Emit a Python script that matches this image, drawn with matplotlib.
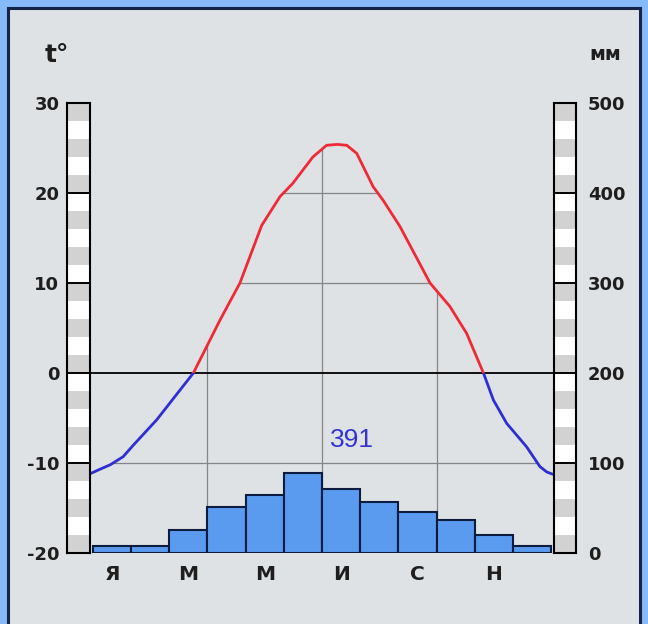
import matplotlib
matplotlib.use("Agg")
import matplotlib.pyplot as plt
from matplotlib.patches import Polygon, Rectangle
import numpy as np

# Осадки по месяцам, мм
months = ['Я', 'Ф', 'М', 'А', 'М', 'И', 'И', 'А', 'С', 'О', 'Н', 'Д']
precip = [8, 8, 26, 51, 65, 89, 71, 57, 46, 37, 20, 8]
total_precip = 391

# Ход температуры (положение в месяцах от начала года, t°)
curve_m = [-0.08, 0.18, 0.45, 0.79, 1.06, 1.67, 2.15, 2.63, 3.33, 3.85, 4.42,
           4.90, 5.24, 5.76, 6.12, 6.40, 6.65, 6.91, 7.34, 7.60, 8.04, 8.83, 9.35,
           9.79, 10.23, 10.49, 10.84, 11.36, 11.71, 11.89, 12.08]
curve_t = [-11.2, -10.7, -10.2, -9.3, -8.0, -5.2, -2.6, 0.0, 5.9, 10.0, 16.4,
           19.6, 21.1, 24.0, 25.3, 25.4, 25.3, 24.4, 20.7, 19.2, 16.3, 10.0, 7.4,
           4.4, 0.0, -3.0, -5.6, -8.2, -10.4, -11.0, -11.3]

t_ticks = [-20, -10, 0, 10, 20, 30]
p_ticks = [0, 100, 200, 300, 400, 500]

W, H = 648, 624
fig = plt.figure(figsize=(W / 100, H / 100), dpi=100)
fig.patch.set_facecolor('#86baf9')
fig.patches.append(Rectangle((8 / W, -0.02), 632 / W, 1.02 - 8 / H,
                             transform=fig.transFigure, facecolor='#dfe2e4',
                             edgecolor='#17244a', lw=2.2, zorder=-5))

def fx(x):
    return x / W

def fy(y):
    return (H - y) / H

# основная область
ax = fig.add_axes([fx(90), fy(553), fx(554) - fx(90), fy(103) - fy(553)])
ax.set_facecolor('none')
xmin, xmax = -0.0786, 12.0786
ax.set_xlim(xmin, xmax)
ax.set_ylim(-20, 30)
for s in ax.spines.values():
    s.set_visible(False)
ax.set_yticks([])

# сетка только под кривой
poly = Polygon(list(zip(curve_m, curve_t)) + [(xmax, -20), (xmin, -20)],
               closed=True, transform=ax.transData)
for v in [20, 10, -10]:
    ln = ax.axhline(v, color='#858585', lw=0.9, zorder=1)
    ln.set_clip_path(poly)
for v in [3, 6, 9]:
    ln = ax.axvline(v, color='#858585', lw=0.9, zorder=1)
    ln.set_clip_path(poly)
ax.axhline(0, color='black', lw=1.3, zorder=2)

# кривая: синяя ниже нуля, красная выше
blue_line, = ax.plot(curve_m, curve_t, color='#2e2ed2', lw=2.0, zorder=3,
                     solid_capstyle='round', solid_joinstyle='round')
blue_line.set_clip_path(Rectangle((xmin, -20), xmax - xmin, 20, transform=ax.transData))
red_line, = ax.plot(curve_m, curve_t, color='#ee2a36', lw=2.0, zorder=3,
                    solid_capstyle='round', solid_joinstyle='round')
red_line.set_clip_path(Rectangle((xmin, 0), xmax - xmin, 30, transform=ax.transData))

ax.text(6.79, -7.4, str(total_precip), color='#3434cc', fontsize=19,
        family='Liberation Sans', ha='center', va='center', zorder=4)

label_idx = [0, 2, 4, 6, 8, 10]
ax.set_xticks([i + 0.5 for i in label_idx])
ax.set_xticklabels([months[i] for i in label_idx],
                   fontsize=14.5, fontweight='bold', color='#1e1e1e')
ax.tick_params(axis='x', length=0, pad=9)

# столбики осадков
ax2 = ax.twinx()
ax2.set_ylim(0, 500)
ax2.set_yticks([])
for s in ax2.spines.values():
    s.set_visible(False)
ax2.bar(np.arange(12) + 0.5, precip, width=1.0, color='#5a9bf0',
        edgecolor='#0d1b3e', lw=1.5, zorder=2)

# шкалы слева и справа
def scale_axis(left, right, lo, hi, step, ticks, side, pad):
    sa = fig.add_axes([fx(left), fy(553), fx(right) - fx(left), fy(103) - fy(553)])
    sa.set_xlim(0, 1)
    sa.set_ylim(lo, hi)
    bottoms = np.arange(lo, hi, step)
    cols = ['#d2d2d2' if k % 2 == 0 else '#ffffff' for k in range(len(bottoms))]
    sa.barh(bottoms, 1, height=step, left=0, align='edge', color=cols, lw=0)
    for v in ticks[1:-1]:
        sa.axhline(v, color='black', lw=1.4)
    for s in sa.spines.values():
        s.set_color('black')
        s.set_linewidth(1.5)
    sa.set_xticks([])
    sa.set_yticks(ticks)
    sa.set_yticklabels([str(v) for v in ticks], fontsize=13, fontweight='bold',
                       color='#1e1e1e')
    if side == 'right':
        sa.yaxis.tick_right()
    sa.tick_params(axis='y', length=0, pad=pad)
    return sa

scale_axis(67, 90, -20, 30, 2, t_ticks, 'left', 5.5)
scale_axis(554, 576, 0, 500, 20, p_ticks, 'right', 8.5)

fig.text(fx(57), fy(55), 't°', fontsize=18, fontweight='bold', color='#1e1e1e',
         ha='center', va='center')
fig.text(fx(605), fy(54), 'мм', fontsize=14, fontweight='bold', color='#1e1e1e',
         ha='center', va='center')

fig.savefig('out.png', dpi=100, facecolor=fig.get_facecolor())
